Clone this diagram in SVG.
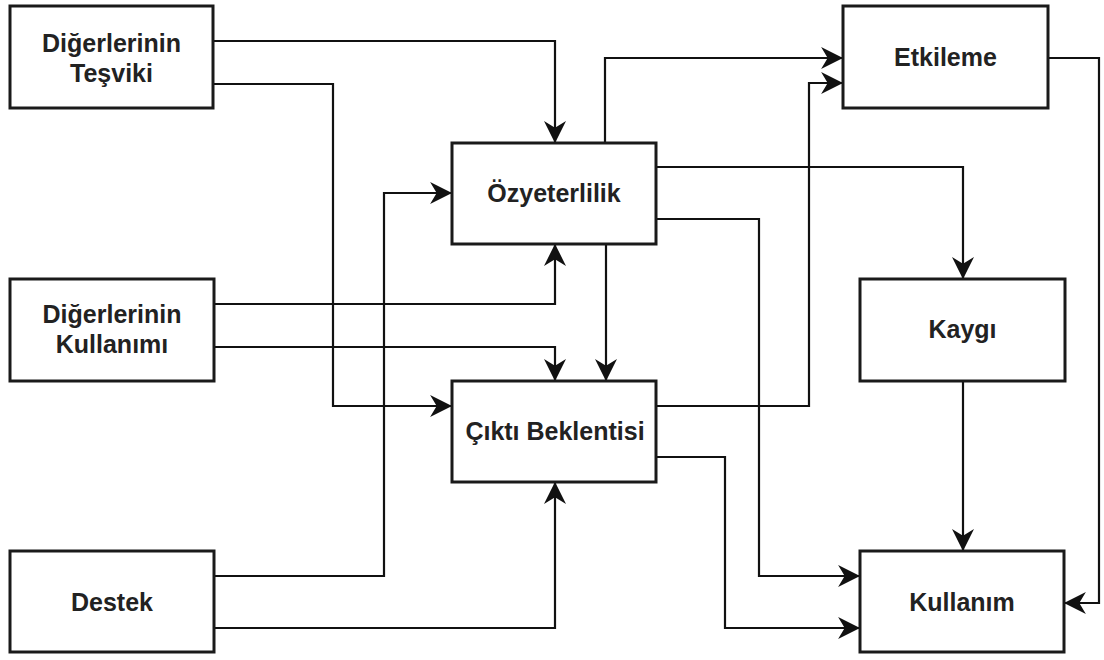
<svg xmlns="http://www.w3.org/2000/svg" width="1104" height="660" viewBox="0 0 1104 660">
<style>
.box{fill:#ffffff;stroke:#1a1a1a;stroke-width:3}
.lbl{font-family:"Liberation Sans",Arial,sans-serif;font-weight:bold;font-size:25px;fill:#222222;text-anchor:middle}
.edge{fill:none;stroke:#111111;stroke-width:2.2;marker-end:url(#arr)}
</style>
<defs>
<marker id="arr" markerUnits="userSpaceOnUse" markerWidth="22" markerHeight="22" viewBox="0 0 20 20" refX="19" refY="10" orient="auto">
<path d="M0,0 L20,10 L0,20 L6,10 Z" fill="#111111"/>
</marker>
</defs>
<rect width="1104" height="660" fill="#ffffff"/>
<g id="connectors">
<path class="edge" d="M213,41 H555 V142"/>
<path class="edge" d="M213,84 H333 V406 H451"/>
<path class="edge" d="M605,143 V58 H842"/>
<path class="edge" d="M656,167 H963 V278"/>
<path class="edge" d="M656,219 H759 V576 H859"/>
<path class="edge" d="M606,244 V380"/>
<path class="edge" d="M214,304 H555 V245"/>
<path class="edge" d="M214,347 H555 V380"/>
<path class="edge" d="M214,576 H384 V193 H451"/>
<path class="edge" d="M214,628 H555 V483"/>
<path class="edge" d="M656,406 H809 V83 H842"/>
<path class="edge" d="M656,457 H725 V628 H859"/>
<path class="edge" d="M963,381 V550"/>
<path class="edge" d="M1048,58 H1099 V603 H1065"/>
</g>
<g id="tesviki">
<rect class="box" x="10" y="6" width="203" height="102"/>
<text class="lbl" x="111.5" y="52">Diğerlerinin</text>
<text class="lbl" x="111.5" y="82">Teşviki</text>
</g>
<g id="kullanimi">
<rect class="box" x="10" y="279" width="204" height="102"/>
<text class="lbl" x="112" y="323">Diğerlerinin</text>
<text class="lbl" x="112" y="353">Kullanımı</text>
</g>
<g id="destek">
<rect class="box" x="10" y="551" width="204" height="101"/>
<text class="lbl" x="112" y="611">Destek</text>
</g>
<g id="ozyeterlilik">
<rect class="box" x="452" y="143" width="204" height="101"/>
<text class="lbl" x="554" y="202">Özyeterlilik</text>
</g>
<g id="cikti">
<rect class="box" x="452" y="381" width="204" height="101"/>
<text class="lbl" x="555" y="440">Çıktı Beklentisi</text>
</g>
<g id="etkileme">
<rect class="box" x="843" y="6" width="205" height="102"/>
<text class="lbl" x="945.5" y="66">Etkileme</text>
</g>
<g id="kaygi">
<rect class="box" x="860" y="279" width="205" height="102"/>
<text class="lbl" x="962.5" y="338">Kaygı</text>
</g>
<g id="kullanim">
<rect class="box" x="860" y="551" width="204" height="101"/>
<text class="lbl" x="962" y="611">Kullanım</text>
</g>
</svg>
